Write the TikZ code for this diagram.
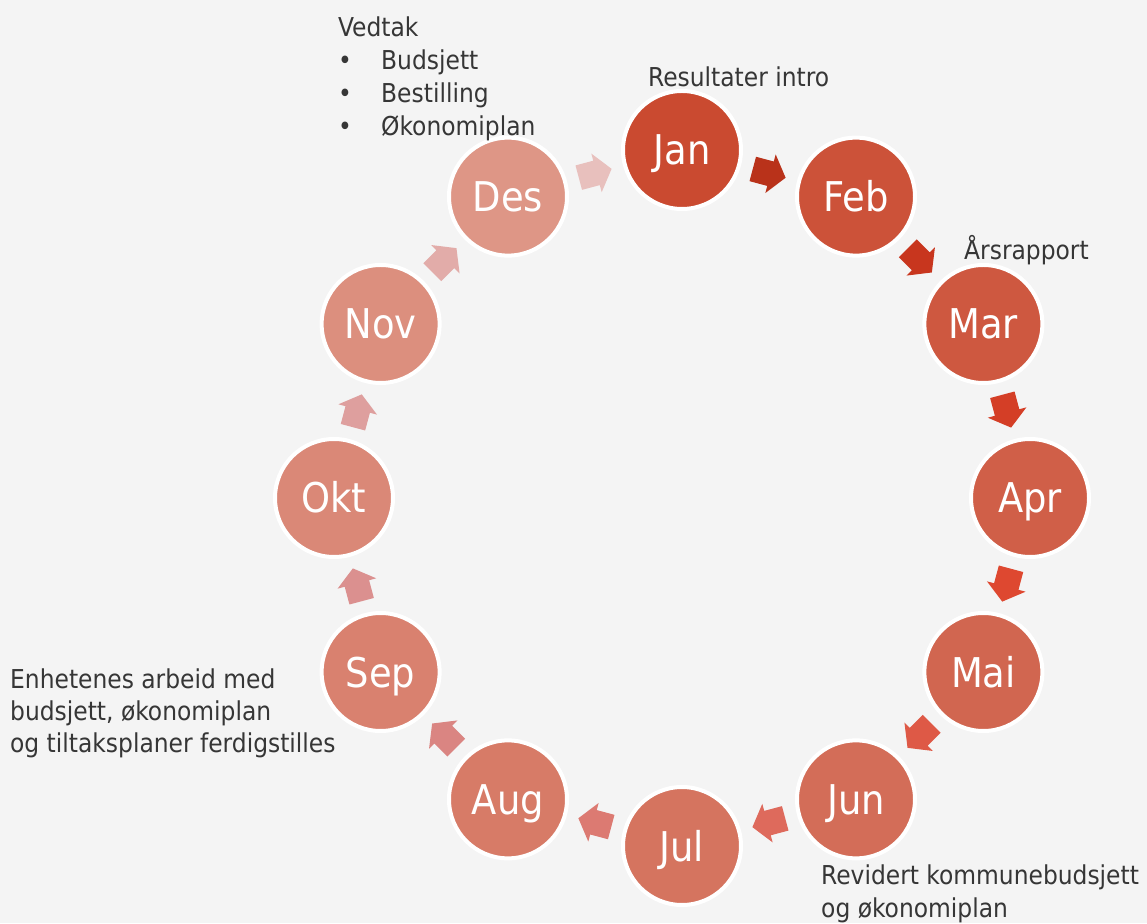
\documentclass[tikz,border=0pt]{standalone}
\usepackage{fontspec}
\setmainfont{DejaVu Sans Condensed}
\usetikzlibrary{positioning,calc,shapes.arrows}
\definecolor{pageGray}{HTML}{F4F4F4}
\definecolor{janRed}{HTML}{CA4A30}
\definecolor{desRose}{HTML}{DE9686}
\definecolor{ink}{HTML}{363636}
% arrow shades, Jan->Feb first
\definecolor{arrA}{HTML}{B9321A}
\definecolor{arrB}{HTML}{C8361E}
\definecolor{arrC}{HTML}{D43E26}
\definecolor{arrD}{HTML}{DE4830}
\definecolor{arrE}{HTML}{DE5946}
\definecolor{arrF}{HTML}{DE6A5C}
\definecolor{arrG}{HTML}{DC7A72}
\definecolor{arrH}{HTML}{DA8582}
\definecolor{arrI}{HTML}{DB908F}
\definecolor{arrJ}{HTML}{DE9F9E}
\definecolor{arrK}{HTML}{E2ACA9}
\definecolor{arrL}{HTML}{E8C0BD}
\tikzset{
  monthDisc/.style={circle, draw=white, line width=4pt, minimum size=118pt, inner sep=0pt,
    text=white, text height=30pt, text depth=0pt, font=\fontsize{41}{44}\selectfont},
  flowArrow/.style={single arrow, draw=none, minimum height=34pt, minimum width=40pt,
    single arrow tip angle=104, inner xsep=0pt, inner ysep=12pt, anchor=tail},
  noteText/.style={text=ink, inner sep=0pt, align=left, font=\fontsize{26}{33}\selectfont}
}

\begin{document}
\begin{tikzpicture}
\fill[pageGray] (-682pt,-425pt) rectangle (465pt,498pt);
\useasboundingbox (-682pt,-425pt) rectangle (465pt,498pt);

% the twelve months, clockwise from the top
\foreach \m [count=\i from 0] in {Jan,Feb,Mar,Apr,Mai,Jun,Jul,Aug,Sep,Okt,Nov,Des}{
  \pgfmathtruncatemacro{\shade}{100-\i*100/11}
  \node[monthDisc, fill=janRed!\shade!desRose] (m\i) at ({90-30*\i}:348pt) {\m};
}

% block arrows between neighbours
\foreach \i/\c in {0/arrA,1/arrB,2/arrC,3/arrD,4/arrE,5/arrF,6/arrG,7/arrH,8/arrI,9/arrJ,10/arrK,11/arrL}{
  \pgfmathtruncatemacro{\j}{mod(\i+1,12)}
  \coordinate (mid\i) at ($(m\i)!0.5!(m\j)$);
  \node[flowArrow, fill=\c, rotate={-15-30*\i}] (a\i) at ($(mid\i)!17pt!(m\i)$) {};
}

\node[noteText, anchor=north west] (vedtak) at (-344pt,481pt)
  {Vedtak\\ \makebox[43pt][l]{•}Budsjett\\ \makebox[43pt][l]{•}Bestilling\\ \makebox[43pt][l]{•}Økonomiplan};
\node[noteText, anchor=west] (intro) at (-34pt,421pt) {Resultater intro};
\node[noteText, anchor=west] (aars) at (282pt,248pt) {Årsrapport};
\node[noteText, font=\fontsize{26}{32}\selectfont, anchor=north west] (enhet) at (-672pt,-171pt)
  {Enhetenes arbeid med\\budsjett, økonomiplan\\og tiltaksplaner ferdigstilles};
\node[noteText, anchor=north west] (revid) at (139pt,-367pt)
  {Revidert kommunebudsjett\\og økonomiplan};
\end{tikzpicture}
\end{document}
